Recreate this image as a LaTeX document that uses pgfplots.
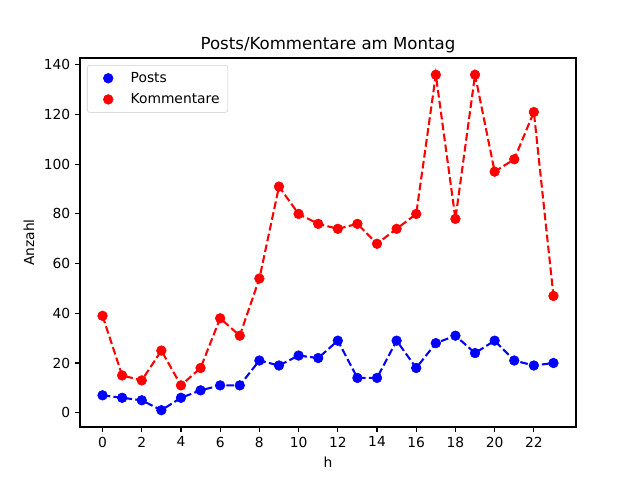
\documentclass[border=0pt]{standalone}
\usepackage{fontspec}
\setmainfont{DejaVu Sans}
\usepackage{pgfplots}
\pgfplotsset{compat=1.18}
\begin{document}
\begin{tikzpicture}
\useasboundingbox (0,0) rectangle (6.4in,4.8in);
\begin{axis}[
  at={(0.8in,0.53in)}, anchor=south west,
  width=4.96in, height=3.69in, scale only axis,
  xmin=-1.15, xmax=24.15, ymin=-5.75, ymax=142.75,
  xtick={0,2,...,22}, ytick={0,20,...,140},
  tick align=outside, xtick pos=bottom, ytick pos=left,
  major tick length=3.5pt,
  every tick/.style={black, line width=0.8pt},
  axis line style={line width=0.8pt},
  /pgf/number format/assume math mode=true,
  ticklabel style={font=\fontsize{10}{12}\selectfont},
  label style={font=\fontsize{10}{12}\selectfont},
  xlabel={h}, ylabel={Anzahl},
  title={Posts/Kommentare am Montag},
  title style={font=\fontsize{12}{14}\selectfont, yshift=-6pt},
  legend style={at={(0.014,0.981)}, anchor=north west, font=\fontsize{10}{12}\selectfont,
    draw=black!20, rounded corners=2pt, fill=white, fill opacity=0.8, text opacity=1,
    row sep=2.5pt, inner xsep=4pt, inner ysep=3pt},
  legend cell align=left,
  legend image code/.code={\path (0pt,0pt) (25pt,0pt);\draw[#1, mark size=3.5pt, fill opacity=1, draw opacity=1] plot coordinates {(11pt,0pt)};},
]
\addplot[blue, dashed, line width=1.5pt, dash pattern=on 5.55pt off 2.4pt, forget plot] coordinates {
(0,7)(1,6)(2,5)(3,1)(4,6)(5,9)(6,11)(7,11)(8,21)(9,19)(10,23)(11,22)(12,29)(13,14)(14,14)(15,29)(16,18)(17,28)(18,31)(19,24)(20,29)(21,21)(22,19)(23,20)};
\addplot[red, dashed, line width=1.5pt, dash pattern=on 5.55pt off 2.4pt, forget plot] coordinates {
(0,39)(1,15)(2,13)(3,25)(4,11)(5,18)(6,38)(7,31)(8,54)(9,91)(10,80)(11,76)(12,74)(13,76)(14,68)(15,74)(16,80)(17,136)(18,78)(19,136)(20,97)(21,102)(22,121)(23,47)};
\addplot[blue, only marks, mark=*, mark size=3.5pt, mark options={fill=blue, draw=blue}] coordinates {
(0,7)(1,6)(2,5)(3,1)(4,6)(5,9)(6,11)(7,11)(8,21)(9,19)(10,23)(11,22)(12,29)(13,14)(14,14)(15,29)(16,18)(17,28)(18,31)(19,24)(20,29)(21,21)(22,19)(23,20)};
\addlegendentry{Posts}
\addplot[red, only marks, mark=*, mark size=3.5pt, mark options={fill=red, draw=red}] coordinates {
(0,39)(1,15)(2,13)(3,25)(4,11)(5,18)(6,38)(7,31)(8,54)(9,91)(10,80)(11,76)(12,74)(13,76)(14,68)(15,74)(16,80)(17,136)(18,78)(19,136)(20,97)(21,102)(22,121)(23,47)};
\addlegendentry{Kommentare}
\end{axis}
\end{tikzpicture}
\end{document}
